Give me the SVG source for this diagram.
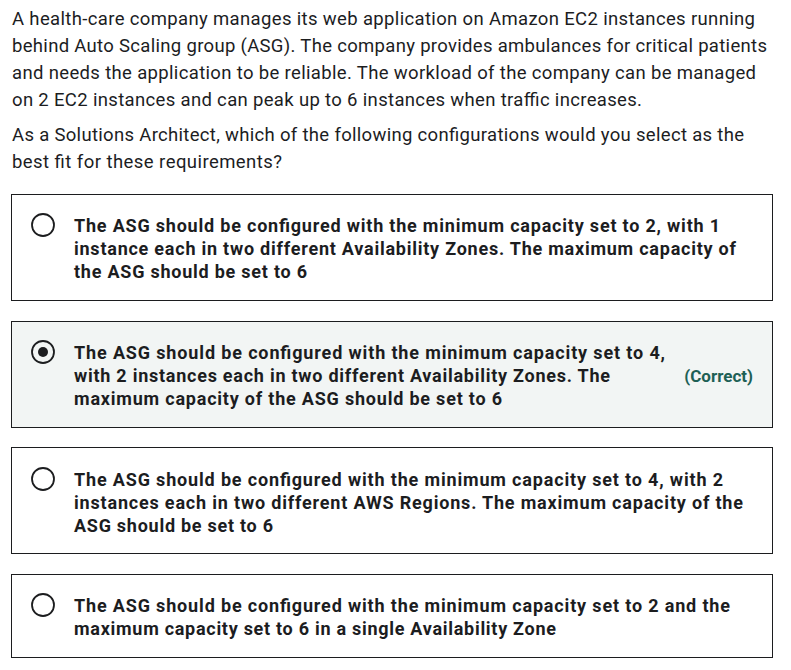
<svg xmlns="http://www.w3.org/2000/svg" width="791" height="670" viewBox="0 0 791 670">
<style>
.q{font-family:Roboto,"Liberation Sans",sans-serif;font-size:18.5px;fill:#1c1d1f}
.o{font-family:Roboto,"Liberation Sans",sans-serif;font-size:18px;font-weight:bold;fill:#1c1d1f}
.box{fill:#ffffff;stroke:#1c1d1f;stroke-width:1}
.sel{fill:#f2f5f4}
.radio{fill:none;stroke:#1c1d1f;stroke-width:1.8}
.ok{font-family:Roboto,"Liberation Sans",sans-serif;font-size:17px;font-weight:bold;fill:#1e6055}
</style>
<rect width="791" height="670" fill="#ffffff"/>
<g id="question">
<text class="q" x="12" y="25" textLength="743" lengthAdjust="spacing">A health-care company manages its web application on Amazon EC2 instances running</text>
<text class="q" x="12" y="52" textLength="755" lengthAdjust="spacing">behind Auto Scaling group (ASG). The company provides ambulances for critical patients</text>
<text class="q" x="12" y="79" textLength="744" lengthAdjust="spacing">and needs the application to be reliable. The workload of the company can be managed</text>
<text class="q" x="12" y="106" textLength="630" lengthAdjust="spacing">on 2 EC2 instances and can peak up to 6 instances when traffic increases.</text>
<text class="q" x="12" y="141" textLength="732" lengthAdjust="spacing">As a Solutions Architect, which of the following configurations would you select as the</text>
<text class="q" x="12" y="168" textLength="270" lengthAdjust="spacing">best fit for these requirements?</text>
</g>
<g id="option1">
<rect class="box" x="11.5" y="194.5" width="761" height="106"/>
<circle class="radio" cx="43" cy="225" r="11"/>
<text class="o" x="74" y="232" textLength="646" lengthAdjust="spacing">The ASG should be configured with the minimum capacity set to 2, with 1</text>
<text class="o" x="74" y="255" textLength="662" lengthAdjust="spacing">instance each in two different Availability Zones. The maximum capacity of</text>
<text class="o" x="74" y="278" textLength="233" lengthAdjust="spacing">the ASG should be set to 6</text>
</g>
<g id="option2">
<rect class="box sel" x="11.5" y="321.5" width="761" height="106"/>
<circle class="radio" cx="43" cy="352" r="11"/>
<circle cx="43" cy="352" r="5" fill="#1c1d1f"/>
<text class="o" x="74" y="359" textLength="591" lengthAdjust="spacing">The ASG should be configured with the minimum capacity set to 4,</text>
<text class="o" x="74" y="382" textLength="536" lengthAdjust="spacing">with 2 instances each in two different Availability Zones. The</text>
<text class="o" x="74" y="405" textLength="428" lengthAdjust="spacing">maximum capacity of the ASG should be set to 6</text>
<text class="ok" x="753" y="382" text-anchor="end">(Correct)</text>
</g>
<g id="option3">
<rect class="box" x="11.5" y="447.5" width="761" height="106"/>
<circle class="radio" cx="43" cy="479" r="11"/>
<text class="o" x="74" y="486" textLength="649" lengthAdjust="spacing">The ASG should be configured with the minimum capacity set to 4, with 2</text>
<text class="o" x="74" y="509" textLength="669" lengthAdjust="spacing">instances each in two different AWS Regions. The maximum capacity of the</text>
<text class="o" x="74" y="532" textLength="199" lengthAdjust="spacing">ASG should be set to 6</text>
</g>
<g id="option4">
<rect class="box" x="11.5" y="574.5" width="761" height="83"/>
<circle class="radio" cx="43" cy="605" r="11"/>
<text class="o" x="74" y="612" textLength="656" lengthAdjust="spacing">The ASG should be configured with the minimum capacity set to 2 and the</text>
<text class="o" x="74" y="635" textLength="482" lengthAdjust="spacing">maximum capacity set to 6 in a single Availability Zone</text>
</g>
</svg>
